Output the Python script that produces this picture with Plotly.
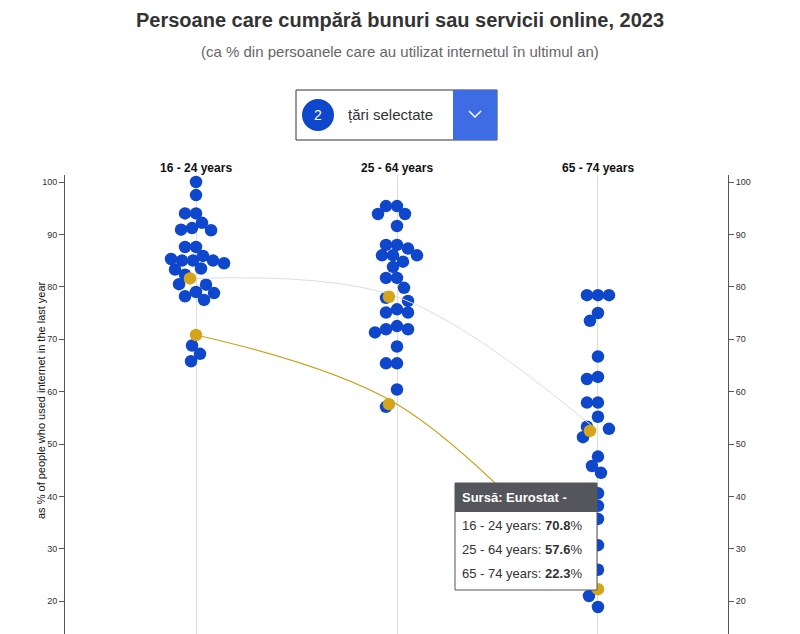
import plotly.graph_objects as go

groups = ["16 - 24 years", "25 - 64 years", "65 - 74 years"]
vals_16_24 = [100, 97.5, 94, 94, 92.2, 91.2, 90.9, 90.8, 87.6, 87.6, 85.9, 85.0, 85.0, 85.0, 85.3,
              84.5, 83.5, 83.3, 82.3, 80.4, 80.5, 79, 78.8, 78.2, 77.5, 68.8, 67.2, 65.8]
vals_25_64 = [95.4, 95.4, 93.9, 93.9, 91.6, 88, 88, 87.3, 86, 86, 86, 84.8, 83.8, 81.7, 81.7, 79.8,
              77.9, 77.3, 75.7, 75.1, 75.1, 72.5, 71.9, 71.9, 71.3, 68.6, 65.4, 65.4, 60.4, 57.1]
vals_65_74 = [78.4, 78.4, 78.4, 75, 73.5, 66.7, 62.8, 62.4, 57.9, 57.9, 55.2, 53.3, 52.9, 51.3, 47.6,
              45.8, 44.5, 40.6, 38.2, 35.7, 34.9, 30.7, 29.2, 26, 21, 18.9]
eu_avg = [81.6, 78.1, 52.5]
country = [70.8, 57.6, 22.3]
y_ticks = [20, 30, 40, 50, 60, 70, 80, 90, 100]

# the page body adds an 8px offset, so margins are reduced by 8
OFF = 8
W, H = 800, 634
L, R, T, B = 65 - OFF, 72 + OFF, 175 - OFF, 0
PW, PH = W - L - R, H - T - B
x_range = [-0.652, 2.647]
# screen y 182 -> 100, 5.24 px per unit; plot spans screen y 175..642
y_range = [100 - (H + OFF - 182) / 5.24, 100 + (182 - 175) / 5.24]
px_x = PW / (x_range[1] - x_range[0])
px_y = PH / (y_range[1] - y_range[0])
DOT = 11


def swarm(values, fixed):
    # simple beeswarm: place each dot at the smallest horizontal offset that does not overlap
    placed = [(0.0, v) for v in fixed]
    out = []
    for v in values:
        best = None
        for step in range(0, 60):
            for sgn in ([0] if step == 0 else [-1, 1]):
                off = sgn * step * 1.0
                if all((off - po) ** 2 + ((v - pv) * px_y) ** 2 >= DOT ** 2 for po, pv in placed):
                    best = off
                    break
            if best is not None:
                break
        placed.append((best, v))
        out.append(best / px_x)
    return out


fig = go.Figure()
for i, vals in enumerate([vals_16_24, vals_25_64, vals_65_74]):
    offs = swarm(vals, [eu_avg[i], country[i]])
    fig.add_trace(go.Scatter(x=[i + o for o in offs], y=vals, mode="markers",
                             marker=dict(size=12.5, color="#0e47cb"), hoverinfo="skip", showlegend=False))

fig.add_trace(go.Scatter(x=[0, 1, 2], y=eu_avg, mode="lines", line=dict(color="#dddddd", width=1, shape="spline"),
                         hoverinfo="skip", showlegend=False))
fig.add_trace(go.Scatter(x=[0, 1, 2], y=country, mode="lines", line=dict(color="#c9a21c", width=1.2, shape="spline"),
                         hoverinfo="skip", showlegend=False))
fig.add_trace(go.Scatter(x=[-0.03, 0.96, 1.96], y=eu_avg, mode="markers", marker=dict(size=12.5, color="#d4a51a"),
                         hoverinfo="skip", showlegend=False))
fig.add_trace(go.Scatter(x=[0, 0.96, 2], y=country, mode="markers", marker=dict(size=12.5, color="#d4a51a"),
                         hoverinfo="skip", showlegend=False))
fig.add_trace(go.Scatter(x=[0], y=[50], yaxis="y2", mode="markers", marker=dict(opacity=0),
                         hoverinfo="skip", showlegend=False))


def fx(x):
    return (x - OFF - L) / PW


def fy(y):
    return (H - B - (y - OFF)) / PH


def px(x, y):
    return dict(x=fx(x), y=fy(y), xref="paper", yref="paper", yanchor="middle")


def rect(x0, y0, x1, y1, **kw):
    return dict(type="rect", xref="paper", yref="paper", x0=fx(x0), x1=fx(x1), y0=fy(y1), y1=fy(y0), **kw)


shapes = []
ann = []
# dropdown
shapes.append(rect(296, 90, 497, 140, line=dict(color="#333", width=1), fillcolor="white"))
shapes.append(rect(453, 90, 497, 140, line=dict(width=0), fillcolor="#3e6ce5"))
shapes.append(dict(type="circle", xref="paper", yref="paper", x0=fx(302), x1=fx(334), y0=fy(131), y1=fy(99),
                   line=dict(width=0), fillcolor="#0e47cb"))
shapes.append(dict(type="path", xref="paper", yref="paper", line=dict(color="white", width=1.5),
                   path=f"M {fx(469)} {fy(111)} L {fx(475)} {fy(117)} L {fx(481)} {fy(111)}"))
ann.append(dict(**px(318, 115), text="2", showarrow=False, font=dict(color="white", size=14)))
ann.append(dict(**px(346, 115), text="țări selectate", xanchor="left", showarrow=False,
                font=dict(color="#333", size=15)))
# tooltip
shapes.append(rect(455, 483, 597, 590, line=dict(color="#555", width=1), fillcolor="white"))
shapes.append(rect(455, 483, 597, 512, line=dict(width=0), fillcolor="#54565b"))
ann.append(dict(**px(460, 497), text="<b>Sursă: Eurostat -</b>", xanchor="left", showarrow=False,
                font=dict(color="white", size=13)))
for k, (g, v) in enumerate(zip(groups, country)):
    ann.append(dict(**px(460, 525 + 24 * k), text=f"{g}: <b>{v}</b>%", xanchor="left", showarrow=False,
                    font=dict(color="#333", size=13)))
for i, g in enumerate(groups):
    ann.append(dict(x=i, y=1, xref="x", yref="paper", yanchor="bottom", yshift=-2, text=f"<b>{g}</b>",
                    showarrow=False, font=dict(size=12, color="#111")))
ann.append(dict(**px(33, 400), text="as % of people who used internet in the last year", textangle=-90,
                showarrow=False, font=dict(size=11, color="#111")))
ann.append(dict(**px(400, 20), text="<b>Persoane care cumpără bunuri sau servicii online, 2023</b>",
                showarrow=False, font=dict(size=20, color="#333")))
ann.append(dict(**px(400, 51), text="(ca % din persoanele care au utilizat internetul în ultimul an)",
                showarrow=False, font=dict(size=15, color="#666")))

axis_y = dict(range=y_range, tickvals=y_ticks, showgrid=False, zeroline=False, showline=True, linecolor="#555",
              ticks="outside", ticklen=5, tickcolor="#555", tickfont=dict(size=9, color="#333"))
fig.update_layout(
    width=W, height=H, margin=dict(l=L, r=R, t=T, b=B),
    plot_bgcolor="white", paper_bgcolor="white", font=dict(family="Arial, Liberation Sans"),
    xaxis=dict(range=x_range, tickvals=[0, 1, 2], showticklabels=False, showgrid=True, gridcolor="#dddddd",
               zeroline=False),
    yaxis=axis_y,
    yaxis2=dict(axis_y, overlaying="y", side="right"),
    shapes=shapes, annotations=ann,
)
fig.write_html("out.html")
